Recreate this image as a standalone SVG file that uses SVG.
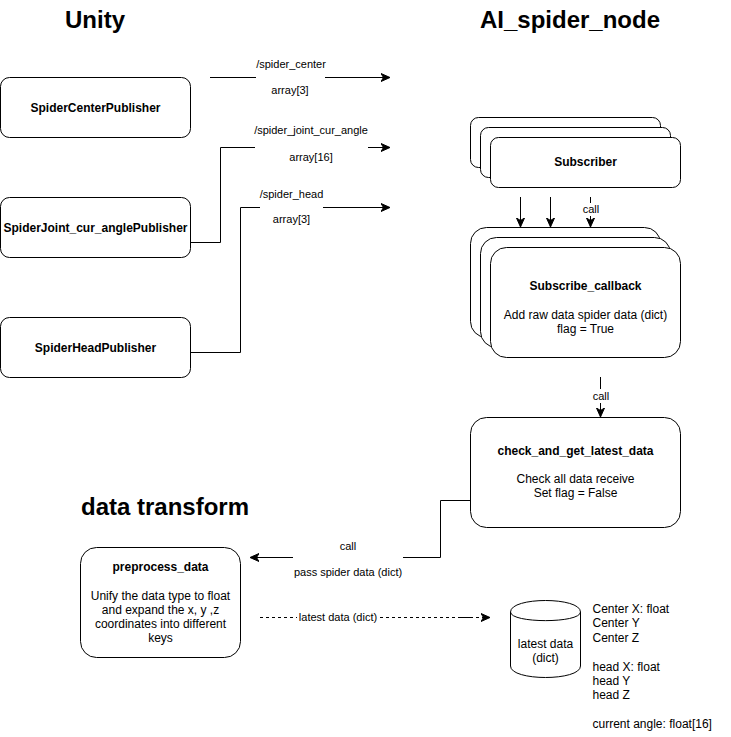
<svg xmlns="http://www.w3.org/2000/svg" width="731" height="737" viewBox="0 0 731 737">
<defs>
<style>
text{font-family:"Liberation Sans",Arial,sans-serif;fill:#000}
.t{font-size:24px;font-weight:bold;text-anchor:middle}
.b{font-size:12px;font-weight:bold;text-anchor:middle}
.n{font-size:12px;text-anchor:middle}
.l{font-size:11px;text-anchor:middle}
.box{fill:#fff;stroke:#000;stroke-width:1}
.c{fill:none;stroke:#000;stroke-width:1}
.bg{fill:#fff;stroke:none}
</style>
<marker id="arr" markerUnits="userSpaceOnUse" markerWidth="10" markerHeight="10" refX="8" refY="5" orient="auto" viewBox="0 0 10 10">
<path d="M0,1 L9,5 L0,9 L2.5,5 Z" fill="#000" stroke="#000" stroke-width="1"/>
</marker>
</defs>
<rect width="731" height="737" fill="#fff"/>

<g id="titles">
<text class="t" x="95" y="28">Unity</text>
<text class="t" x="570" y="28">AI_spider_node</text>
<text class="t" x="165" y="515">data transform</text>
</g>

<g id="connectors">
<path class="c" d="M210,77.5 H389" marker-end="url(#arr)"/>
<path class="c" d="M190.5,242.5 H220.5 V147.5 H389" marker-end="url(#arr)"/>
<path class="c" d="M190.5,352.5 H240.5 V207.5 H389" marker-end="url(#arr)"/>
<path class="c" d="M520.5,197 V226" marker-end="url(#arr)"/>
<path class="c" d="M550.5,197 V226" marker-end="url(#arr)"/>
<path class="c" d="M590.5,197 V226" marker-end="url(#arr)"/>
<path class="c" d="M600.5,377 V416" marker-end="url(#arr)"/>
<path class="c" d="M470.5,500.5 H440.5 V557.5 H251" marker-end="url(#arr)"/>
<path class="c" d="M260,617.5 H489" stroke-dasharray="3 3" marker-end="url(#arr)"/>
<path class="c" d="M458,617.5 H472"/>
<rect class="bg" x="256" y="58" width="69" height="42"/>
<text class="l" x="291" y="68">/spider_center</text>
<text class="l" x="290" y="94">array[3]</text>
<rect class="bg" x="255" y="124" width="113" height="42"/>
<text class="l" x="311" y="134">/spider_joint_cur_angle</text>
<text class="l" x="311" y="161">array[16]</text>
<rect class="bg" x="260" y="188" width="63" height="40"/>
<text class="l" x="291.5" y="198">/spider_head</text>
<text class="l" x="291.5" y="223">array[3]</text>
<rect class="bg" x="582" y="203" width="18" height="13"/>
<text class="l" x="591" y="213">call</text>
<rect class="bg" x="591" y="389" width="19" height="14"/>
<text class="l" x="601" y="400">call</text>
<rect class="bg" x="293" y="539" width="110" height="41"/>
<text class="l" x="348" y="550">call</text>
<text class="l" x="348" y="576">pass spider data (dict)</text>
<rect class="bg" x="297" y="610" width="82" height="14"/>
<text class="l" x="338" y="621">latest data (dict)</text>
</g>

<g id="SpiderCenterPublisher">
<rect class="box" x="0.5" y="77.5" width="190" height="60" rx="9"/>
<text class="b" x="95.5" y="111.5">SpiderCenterPublisher</text>
</g>
<g id="SpiderJoint_cur_anglePublisher">
<rect class="box" x="0.5" y="197.5" width="190" height="60" rx="9"/>
<text class="b" x="95.5" y="231.5">SpiderJoint_cur_anglePublisher</text>
</g>
<g id="SpiderHeadPublisher">
<rect class="box" x="0.5" y="317.5" width="190" height="60" rx="9"/>
<text class="b" x="95.5" y="351.5">SpiderHeadPublisher</text>
</g>

<g id="Subscriber">
<rect class="box" x="470.5" y="117.5" width="190" height="50" rx="8"/>
<rect class="box" x="480.5" y="127.5" width="190" height="50" rx="8"/>
<rect class="box" x="490.5" y="137.5" width="190" height="50" rx="8"/>
<text class="b" x="585.5" y="166">Subscriber</text>
</g>

<g id="Subscribe_callback">
<rect class="box" x="470.5" y="227.5" width="190" height="110" rx="16"/>
<rect class="box" x="480.5" y="237.5" width="190" height="110" rx="16"/>
<rect class="box" x="490.5" y="247.5" width="190" height="110" rx="16"/>
<text class="b" x="585.5" y="290">Subscribe_callback</text>
<text class="n" x="585.5" y="319">Add raw data spider data (dict)</text>
<text class="n" x="585.5" y="333">flag = True</text>
</g>

<g id="check_and_get_latest_data">
<rect class="box" x="470.5" y="417.5" width="210" height="110" rx="16"/>
<text class="b" x="575.5" y="455">check_and_get_latest_data</text>
<text class="n" x="575.5" y="483">Check all data receive</text>
<text class="n" x="575.5" y="497">Set flag = False</text>
</g>

<g id="preprocess_data">
<rect class="box" x="80.5" y="547.5" width="160" height="110" rx="16"/>
<text class="b" x="160.5" y="571">preprocess_data</text>
<text class="n" x="160.5" y="600">Unify the data type to float</text>
<text class="n" x="160.5" y="614">and expand the x, y ,z</text>
<text class="n" x="160.5" y="628">coordinates into different</text>
<text class="n" x="160.5" y="642">keys</text>
</g>

<g id="latest_data">
<path class="box" d="M510.5,612 C510.5,596.67 580.5,596.67 580.5,612 L580.5,666 C580.5,681.33 510.5,681.33 510.5,666 Z"/>
<path class="c" d="M510.5,612 C510.5,623.5 580.5,623.5 580.5,612"/>
<text class="n" x="545.5" y="647.5">latest data</text>
<text class="n" x="545.5" y="661.5">(dict)</text>
</g>

<g id="latest_data_keys">
<text font-size="12" x="592.5" y="613">Center X: float</text>
<text font-size="12" x="592.5" y="627.4">Center Y</text>
<text font-size="12" x="592.5" y="641.8">Center Z</text>
<text font-size="12" x="592.5" y="670.6">head X: float</text>
<text font-size="12" x="592.5" y="685">head Y</text>
<text font-size="12" x="592.5" y="699.4">head Z</text>
<text font-size="12" x="592.5" y="728.2">current angle: float[16]</text>
</g>
</svg>
